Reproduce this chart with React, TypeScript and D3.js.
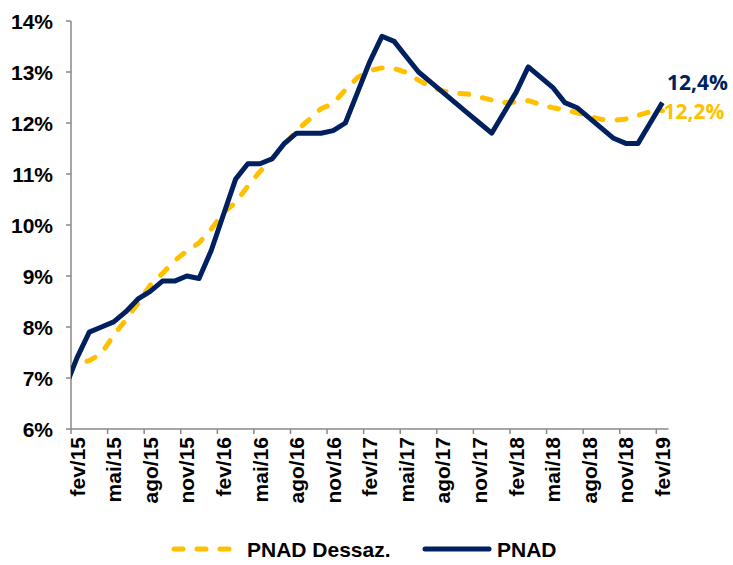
import React, { useEffect, useRef } from 'react';
import * as d3 from 'd3';

// first entry (jan/15) sits left of the axis and is clipped, as in the source
const months = [
  'jan/15', 'fev/15', 'mar/15', 'abr/15', 'mai/15', 'jun/15', 'jul/15', 'ago/15', 'set/15', 'out/15', 'nov/15', 'dez/15',
  'jan/16', 'fev/16', 'mar/16', 'abr/16', 'mai/16', 'jun/16', 'jul/16', 'ago/16', 'set/16', 'out/16', 'nov/16', 'dez/16',
  'jan/17', 'fev/17', 'mar/17', 'abr/17', 'mai/17', 'jun/17', 'jul/17', 'ago/17', 'set/17', 'out/17', 'nov/17', 'dez/17',
  'jan/18', 'fev/18', 'mar/18', 'abr/18', 'mai/18', 'jun/18', 'jul/18', 'ago/18', 'set/18', 'out/18', 'nov/18', 'dez/18',
  'jan/19', 'fev/19'
];

const pnad = [
  6.8, 7.4, 7.9, 8.0, 8.1, 8.3, 8.55, 8.7, 8.9, 8.9, 9.0, 8.95,
  9.5, 10.2, 10.9, 11.2, 11.2, 11.3, 11.6, 11.8, 11.8, 11.8, 11.85, 12.0,
  12.6, 13.2, 13.7, 13.6, 13.3, 13.0, 12.8, 12.6, 12.4, 12.2, 12.0, 11.8,
  12.2, 12.6, 13.1, 12.9, 12.7, 12.4, 12.3, 12.1, 11.9, 11.7, 11.6, 11.6,
  12.0, 12.4
];

const pnadDessaz = [
  7.2, 7.28, 7.34, 7.48, 7.84, 8.14, 8.47, 8.82, 9.05, 9.3, 9.49, 9.65,
  9.92, 10.24, 10.44, 10.76, 11.05, 11.3, 11.57, 11.85, 12.06, 12.28, 12.38, 12.65,
  12.89, 13.03, 13.08, 13.07, 12.99, 12.84, 12.71, 12.63, 12.58, 12.57, 12.51, 12.45,
  12.4, 12.41, 12.44, 12.36, 12.3, 12.26, 12.2, 12.13, 12.07, 12.05, 12.08, 12.15,
  12.22, 12.24
];

const yTicks = [6, 7, 8, 9, 10, 11, 12, 13, 14];
const labelEvery = 3;

const W = 733;
const H = 565;
const NAVY = '#002060';
const GOLD = '#FFC000';
const AXIS = '#898989';
const FONT = '"Liberation Sans", Arial, sans-serif';
const LABEL_FONT = '"Open Sans", Lato, sans-serif';

const App: React.FC = () => {
  const svgRef = useRef<SVGSVGElement>(null);

  useEffect(() => {
    if (!svgRef.current) return;
    const svg = d3.select(svgRef.current);
    svg.selectAll('*').remove();

    const left = 71, right = 668.5, top = 21, bottom = 429;
    const nVisible = months.length - 1;

    // category bands: index 0 = fev/15, points sit in the middle of each band
    const x = d3.scaleLinear().domain([0, nVisible]).range([left, right]);
    const y = d3.scaleLinear().domain([6, 14]).range([bottom, top]);
    const px = (i: number) => x(i - 1 + 0.5);

    svg.append('defs').append('clipPath').attr('id', 'plotClip')
      .append('rect')
      .attr('x', left).attr('y', top - 10)
      .attr('width', right - left).attr('height', bottom - top + 10);

    // y axis
    svg.append('line')
      .attr('x1', left).attr('x2', left).attr('y1', top).attr('y2', bottom)
      .attr('stroke', AXIS).attr('stroke-width', 1.5);
    const yg = svg.append('g');
    yTicks.forEach(t => {
      yg.append('line')
        .attr('x1', left - 5).attr('x2', left).attr('y1', y(t)).attr('y2', y(t))
        .attr('stroke', AXIS).attr('stroke-width', 1.5);
      yg.append('text')
        .attr('x', 53).attr('y', y(t)).attr('dy', '0.36em')
        .attr('text-anchor', 'end')
        .attr('font-family', FONT).attr('font-weight', 'bold').attr('font-size', 21)
        .attr('fill', '#000')
        .text(`${t}%`);
    });

    // x axis
    svg.append('line')
      .attr('x1', left).attr('x2', right).attr('y1', bottom).attr('y2', bottom)
      .attr('stroke', AXIS).attr('stroke-width', 1.5);
    const xg = svg.append('g');
    for (let k = 0; k < nVisible; k += labelEvery) {
      xg.append('line')
        .attr('x1', x(k)).attr('x2', x(k)).attr('y1', bottom).attr('y2', bottom + 5)
        .attr('stroke', AXIS).attr('stroke-width', 1.5);
      xg.append('text')
        .attr('transform', `translate(${x(k + 0.5)},${bottom + 8}) rotate(-90)`)
        .attr('dy', '0.36em')
        .attr('text-anchor', 'end')
        .attr('font-family', FONT).attr('font-weight', 'bold').attr('font-size', 21)
        .attr('fill', '#000')
        .text(months[k + 1]);
    }

    const line = d3.line<number>()
      .x((_, i) => px(i))
      .y(d => y(d));

    const plot = svg.append('g').attr('clip-path', 'url(#plotClip)');

    plot.append('path')
      .datum(pnadDessaz)
      .attr('fill', 'none')
      .attr('stroke', GOLD)
      .attr('stroke-width', 5)
      .attr('stroke-dasharray', '9 14')
      .attr('stroke-linecap', 'round')
      .attr('stroke-linejoin', 'round')
      .attr('d', line);

    plot.append('path')
      .datum(pnad)
      .attr('fill', 'none')
      .attr('stroke', NAVY)
      .attr('stroke-width', 5)
      .attr('stroke-linejoin', 'round')
      .attr('d', line);

    // end labels
    const last = months.length - 1;
    const fmt = (v: number) => d3.format('.1f')(v).replace('.', ',') + '%';
    svg.append('text')
      .attr('x', px(last) + 4.5).attr('y', y(pnad[last]) - 13)
      .attr('font-family', LABEL_FONT).attr('font-weight', 'bold').attr('font-size', 21)
      .attr('fill', NAVY)
      .text(fmt(pnad[last]));
    svg.append('text')
      .attr('x', px(last) + 1).attr('y', y(pnadDessaz[last]) + 8.5)
      .attr('font-family', LABEL_FONT).attr('font-weight', 'bold').attr('font-size', 21)
      .attr('fill', GOLD)
      .text(fmt(pnadDessaz[last]));

    // legend
    const ly = 549;
    const lg = svg.append('g');
    lg.append('line')
      .attr('x1', 174).attr('x2', 230).attr('y1', ly).attr('y2', ly)
      .attr('stroke', GOLD).attr('stroke-width', 5)
      .attr('stroke-dasharray', '9 14').attr('stroke-linecap', 'round');
    lg.append('text')
      .attr('x', 247).attr('y', ly).attr('dy', '0.36em')
      .attr('font-family', FONT).attr('font-weight', 'bold').attr('font-size', 21)
      .text('PNAD Dessaz.');
    lg.append('line')
      .attr('x1', 425).attr('x2', 489).attr('y1', ly).attr('y2', ly)
      .attr('stroke', NAVY).attr('stroke-width', 5).attr('stroke-linecap', 'round');
    lg.append('text')
      .attr('x', 497).attr('y', ly).attr('dy', '0.36em')
      .attr('font-family', FONT).attr('font-weight', 'bold').attr('font-size', 21)
      .text('PNAD');
  }, []);

  return (
    <div style={{ position: 'absolute', left: 0, top: 0 }}>
      <svg ref={svgRef} width={W} height={H} style={{ display: 'block', background: '#fff' }} />
    </div>
  );
};

export default App;
